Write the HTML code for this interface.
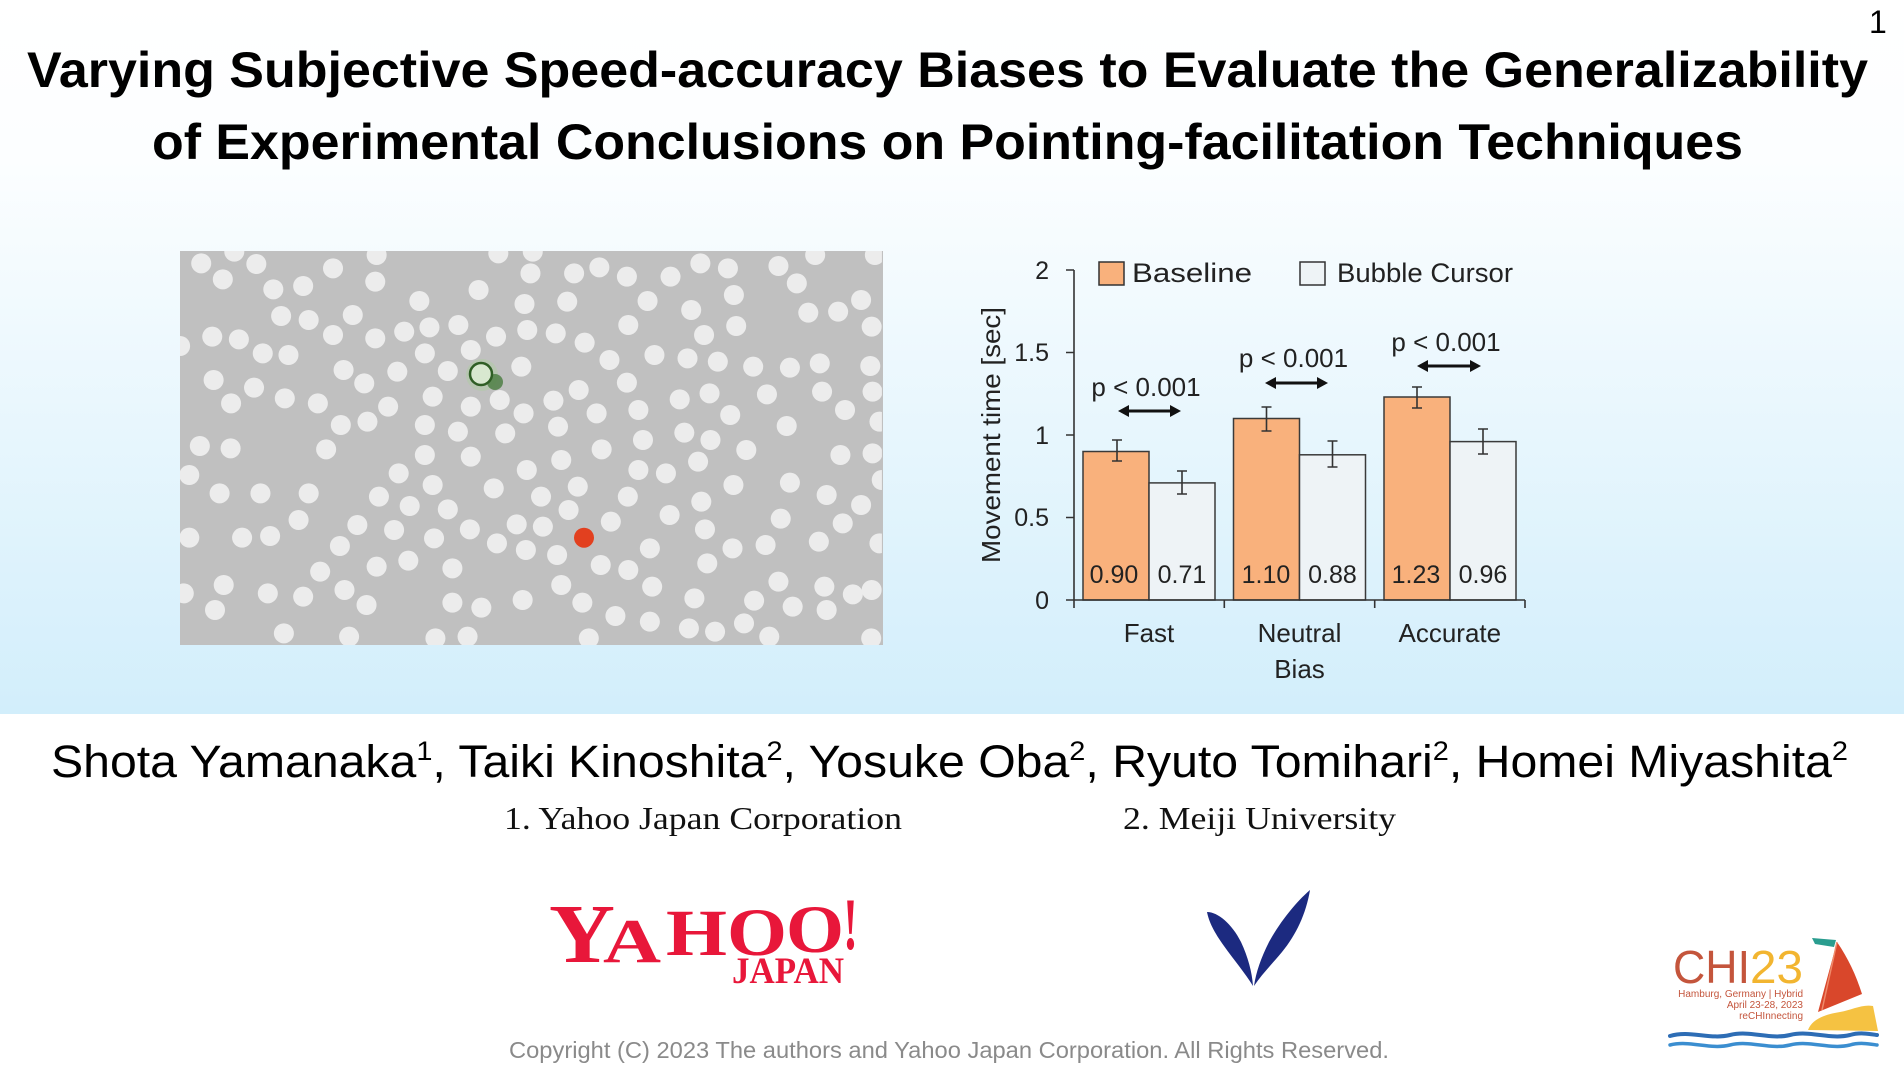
<!DOCTYPE html>
<html><head><meta charset="utf-8"><style>
html,body{margin:0;padding:0;background:#fff;}
svg{display:block;}
</style></head><body>
<svg width="1904" height="1069" viewBox="0 0 1904 1069" xmlns="http://www.w3.org/2000/svg">
<defs>
<linearGradient id="bg" x1="0" y1="0" x2="0" y2="1">
<stop offset="0" stop-color="#ffffff"/>
<stop offset="0.22" stop-color="#fcfeff"/>
<stop offset="1" stop-color="#d2eefb"/>
</linearGradient>
<clipPath id="pc"><rect x="21.8" y="33" width="1528.5" height="1182"/></clipPath>
</defs>
<rect x="0" y="0" width="1904" height="714" fill="url(#bg)"/>
<rect x="0" y="714" width="1904" height="355" fill="#ffffff"/>

<!-- Title -->
<text x="1869" y="33" font-family="Liberation Sans, Arial, sans-serif" font-size="32" fill="#000">1</text>
<text x="27" y="87" font-family="Liberation Sans, Arial, sans-serif" font-weight="bold" font-size="50" fill="#000" textLength="1841" lengthAdjust="spacingAndGlyphs">Varying Subjective Speed-accuracy Biases to Evaluate the Generalizability</text>
<text x="152" y="159" font-family="Liberation Sans, Arial, sans-serif" font-weight="bold" font-size="50" fill="#000" textLength="1591" lengthAdjust="spacingAndGlyphs">of Experimental Conclusions on Pointing-facilitation Techniques</text>

<!-- Gray panel -->
<rect x="180" y="251" width="703" height="394" fill="#c0c0c0"/>
<g transform="translate(170,240) scale(0.4592,0.33333)" clip-path="url(#pc)" fill="#ececec">
<ellipse cx="140" cy="35" rx="21.8" ry="30"/><ellipse cx="450" cy="45" rx="21.8" ry="30"/><ellipse cx="715" cy="40" rx="21.8" ry="30"/><ellipse cx="790" cy="35" rx="21.8" ry="30"/><ellipse cx="1405" cy="45" rx="21.8" ry="30"/><ellipse cx="1535" cy="45" rx="21.8" ry="30"/>
<ellipse cx="68" cy="70" rx="21.8" ry="30"/><ellipse cx="188" cy="72" rx="21.8" ry="30"/><ellipse cx="355" cy="85" rx="21.8" ry="30"/><ellipse cx="935" cy="82" rx="21.8" ry="30"/><ellipse cx="880" cy="100" rx="21.8" ry="30"/><ellipse cx="1155" cy="70" rx="21.8" ry="30"/><ellipse cx="1215" cy="85" rx="21.8" ry="30"/><ellipse cx="1325" cy="78" rx="21.8" ry="30"/>
<ellipse cx="115" cy="118" rx="21.8" ry="30"/><ellipse cx="447" cy="125" rx="21.8" ry="30"/><ellipse cx="785" cy="100" rx="21.8" ry="30"/><ellipse cx="995" cy="110" rx="21.8" ry="30"/><ellipse cx="1090" cy="110" rx="21.8" ry="30"/><ellipse cx="1365" cy="130" rx="21.8" ry="30"/><ellipse cx="1505" cy="180" rx="21.8" ry="30"/>
<ellipse cx="225" cy="148" rx="21.8" ry="30"/><ellipse cx="290" cy="138" rx="21.8" ry="30"/><ellipse cx="672" cy="150" rx="21.8" ry="30"/><ellipse cx="543" cy="183" rx="21.8" ry="30"/><ellipse cx="772" cy="192" rx="21.8" ry="30"/><ellipse cx="865" cy="185" rx="21.8" ry="30"/><ellipse cx="1040" cy="183" rx="21.8" ry="30"/><ellipse cx="1228" cy="165" rx="21.8" ry="30"/><ellipse cx="1135" cy="210" rx="21.8" ry="30"/><ellipse cx="1390" cy="218" rx="21.8" ry="30"/><ellipse cx="1455" cy="215" rx="21.8" ry="30"/>
<ellipse cx="242" cy="228" rx="21.8" ry="30"/><ellipse cx="302" cy="240" rx="21.8" ry="30"/><ellipse cx="398" cy="225" rx="21.8" ry="30"/><ellipse cx="565" cy="262" rx="21.8" ry="30"/><ellipse cx="628" cy="255" rx="21.8" ry="30"/><ellipse cx="510" cy="275" rx="21.8" ry="30"/><ellipse cx="778" cy="270" rx="21.8" ry="30"/><ellipse cx="840" cy="280" rx="21.8" ry="30"/><ellipse cx="998" cy="255" rx="21.8" ry="30"/><ellipse cx="1233" cy="258" rx="21.8" ry="30"/><ellipse cx="1528" cy="260" rx="21.8" ry="30"/>
<ellipse cx="92" cy="290" rx="21.8" ry="30"/><ellipse cx="150" cy="298" rx="21.8" ry="30"/><ellipse cx="355" cy="285" rx="21.8" ry="30"/><ellipse cx="447" cy="295" rx="21.8" ry="30"/><ellipse cx="710" cy="290" rx="21.8" ry="30"/><ellipse cx="903" cy="308" rx="21.8" ry="30"/><ellipse cx="1163" cy="285" rx="21.8" ry="30"/><ellipse cx="22" cy="318" rx="21.8" ry="30"/>
<ellipse cx="202" cy="340" rx="21.8" ry="30"/><ellipse cx="258" cy="345" rx="21.8" ry="30"/><ellipse cx="555" cy="340" rx="21.8" ry="30"/><ellipse cx="655" cy="330" rx="21.8" ry="30"/><ellipse cx="957" cy="360" rx="21.8" ry="30"/><ellipse cx="1055" cy="345" rx="21.8" ry="30"/><ellipse cx="1127" cy="355" rx="21.8" ry="30"/><ellipse cx="1193" cy="365" rx="21.8" ry="30"/><ellipse cx="1270" cy="380" rx="21.8" ry="30"/><ellipse cx="1350" cy="383" rx="21.8" ry="30"/><ellipse cx="1415" cy="370" rx="21.8" ry="30"/><ellipse cx="1525" cy="378" rx="21.8" ry="30"/>
<ellipse cx="378" cy="390" rx="21.8" ry="30"/><ellipse cx="495" cy="395" rx="21.8" ry="30"/><ellipse cx="605" cy="393" rx="21.8" ry="30"/><ellipse cx="765" cy="380" rx="21.8" ry="30"/><ellipse cx="95" cy="420" rx="21.8" ry="30"/><ellipse cx="423" cy="430" rx="21.8" ry="30"/><ellipse cx="183" cy="443" rx="21.8" ry="30"/><ellipse cx="890" cy="450" rx="21.8" ry="30"/><ellipse cx="995" cy="428" rx="21.8" ry="30"/>
<ellipse cx="250" cy="475" rx="21.8" ry="30"/><ellipse cx="133" cy="490" rx="21.8" ry="30"/><ellipse cx="322" cy="490" rx="21.8" ry="30"/><ellipse cx="475" cy="500" rx="21.8" ry="30"/><ellipse cx="572" cy="470" rx="21.8" ry="30"/><ellipse cx="655" cy="500" rx="21.8" ry="30"/><ellipse cx="718" cy="480" rx="21.8" ry="30"/><ellipse cx="770" cy="520" rx="21.8" ry="30"/><ellipse cx="835" cy="482" rx="21.8" ry="30"/><ellipse cx="929" cy="520" rx="21.8" ry="30"/><ellipse cx="1020" cy="510" rx="21.8" ry="30"/><ellipse cx="1110" cy="478" rx="21.8" ry="30"/><ellipse cx="1175" cy="460" rx="21.8" ry="30"/><ellipse cx="1300" cy="463" rx="21.8" ry="30"/><ellipse cx="1420" cy="455" rx="21.8" ry="30"/><ellipse cx="1530" cy="455" rx="21.8" ry="30"/><ellipse cx="1470" cy="510" rx="21.8" ry="30"/><ellipse cx="1220" cy="525" rx="21.8" ry="30"/>
<ellipse cx="372" cy="555" rx="21.8" ry="30"/><ellipse cx="430" cy="545" rx="21.8" ry="30"/><ellipse cx="555" cy="555" rx="21.8" ry="30"/><ellipse cx="627" cy="575" rx="21.8" ry="30"/><ellipse cx="730" cy="580" rx="21.8" ry="30"/><ellipse cx="845" cy="560" rx="21.8" ry="30"/><ellipse cx="1030" cy="600" rx="21.8" ry="30"/><ellipse cx="1120" cy="578" rx="21.8" ry="30"/><ellipse cx="1177" cy="600" rx="21.8" ry="30"/><ellipse cx="1343" cy="558" rx="21.8" ry="30"/><ellipse cx="1545" cy="545" rx="21.8" ry="30"/>
<ellipse cx="65" cy="618" rx="21.8" ry="30"/><ellipse cx="132" cy="625" rx="21.8" ry="30"/><ellipse cx="340" cy="628" rx="21.8" ry="30"/><ellipse cx="555" cy="645" rx="21.8" ry="30"/><ellipse cx="655" cy="650" rx="21.8" ry="30"/><ellipse cx="852" cy="660" rx="21.8" ry="30"/><ellipse cx="940" cy="628" rx="21.8" ry="30"/><ellipse cx="1255" cy="630" rx="21.8" ry="30"/><ellipse cx="1460" cy="645" rx="21.8" ry="30"/><ellipse cx="1530" cy="640" rx="21.8" ry="30"/><ellipse cx="1150" cy="665" rx="21.8" ry="30"/>
<ellipse cx="42" cy="705" rx="21.8" ry="30"/><ellipse cx="498" cy="700" rx="21.8" ry="30"/><ellipse cx="572" cy="735" rx="21.8" ry="30"/><ellipse cx="705" cy="745" rx="21.8" ry="30"/><ellipse cx="777" cy="690" rx="21.8" ry="30"/><ellipse cx="1020" cy="690" rx="21.8" ry="30"/><ellipse cx="1080" cy="700" rx="21.8" ry="30"/><ellipse cx="1227" cy="735" rx="21.8" ry="30"/><ellipse cx="1350" cy="728" rx="21.8" ry="30"/><ellipse cx="1550" cy="720" rx="21.8" ry="30"/>
<ellipse cx="108" cy="760" rx="21.8" ry="30"/><ellipse cx="197" cy="760" rx="21.8" ry="30"/><ellipse cx="302" cy="760" rx="21.8" ry="30"/><ellipse cx="455" cy="770" rx="21.8" ry="30"/><ellipse cx="522" cy="798" rx="21.8" ry="30"/><ellipse cx="605" cy="808" rx="21.8" ry="30"/><ellipse cx="808" cy="770" rx="21.8" ry="30"/><ellipse cx="888" cy="740" rx="21.8" ry="30"/><ellipse cx="997" cy="770" rx="21.8" ry="30"/><ellipse cx="1088" cy="825" rx="21.8" ry="30"/><ellipse cx="1157" cy="785" rx="21.8" ry="30"/><ellipse cx="1430" cy="765" rx="21.8" ry="30"/><ellipse cx="1505" cy="795" rx="21.8" ry="30"/>
<ellipse cx="280" cy="840" rx="21.8" ry="30"/><ellipse cx="408" cy="855" rx="21.8" ry="30"/><ellipse cx="488" cy="870" rx="21.8" ry="30"/><ellipse cx="653" cy="868" rx="21.8" ry="30"/><ellipse cx="755" cy="853" rx="21.8" ry="30"/><ellipse cx="812" cy="860" rx="21.8" ry="30"/><ellipse cx="868" cy="810" rx="21.8" ry="30"/><ellipse cx="960" cy="845" rx="21.8" ry="30"/><ellipse cx="1165" cy="868" rx="21.8" ry="30"/><ellipse cx="1330" cy="836" rx="21.8" ry="30"/><ellipse cx="1465" cy="850" rx="21.8" ry="30"/><ellipse cx="42" cy="893" rx="21.8" ry="30"/><ellipse cx="157" cy="893" rx="21.8" ry="30"/><ellipse cx="218" cy="888" rx="21.8" ry="30"/><ellipse cx="370" cy="918" rx="21.8" ry="30"/><ellipse cx="575" cy="895" rx="21.8" ry="30"/><ellipse cx="712" cy="910" rx="21.8" ry="30"/><ellipse cx="775" cy="930" rx="21.8" ry="30"/><ellipse cx="843" cy="945" rx="21.8" ry="30"/><ellipse cx="1045" cy="925" rx="21.8" ry="30"/><ellipse cx="1225" cy="925" rx="21.8" ry="30"/><ellipse cx="1297" cy="915" rx="21.8" ry="30"/><ellipse cx="1413" cy="905" rx="21.8" ry="30"/><ellipse cx="1545" cy="910" rx="21.8" ry="30"/>
<ellipse cx="450" cy="980" rx="21.8" ry="30"/><ellipse cx="519" cy="962" rx="21.8" ry="30"/><ellipse cx="615" cy="985" rx="21.8" ry="30"/><ellipse cx="327" cy="995" rx="21.8" ry="30"/><ellipse cx="938" cy="975" rx="21.8" ry="30"/><ellipse cx="998" cy="990" rx="21.8" ry="30"/><ellipse cx="1170" cy="970" rx="21.8" ry="30"/>
<ellipse cx="117" cy="1035" rx="21.8" ry="30"/><ellipse cx="213" cy="1060" rx="21.8" ry="30"/><ellipse cx="290" cy="1070" rx="21.8" ry="30"/><ellipse cx="380" cy="1050" rx="21.8" ry="30"/><ellipse cx="428" cy="1095" rx="21.8" ry="30"/><ellipse cx="98" cy="1110" rx="21.8" ry="30"/><ellipse cx="852" cy="1035" rx="21.8" ry="30"/><ellipse cx="1050" cy="1040" rx="21.8" ry="30"/><ellipse cx="1325" cy="1025" rx="21.8" ry="30"/><ellipse cx="1425" cy="1040" rx="21.8" ry="30"/><ellipse cx="1487" cy="1063" rx="21.8" ry="30"/><ellipse cx="1528" cy="1050" rx="21.8" ry="30"/><ellipse cx="30" cy="1060" rx="21.8" ry="30"/>
<ellipse cx="615" cy="1088" rx="21.8" ry="30"/><ellipse cx="678" cy="1103" rx="21.8" ry="30"/><ellipse cx="768" cy="1080" rx="21.8" ry="30"/><ellipse cx="898" cy="1088" rx="21.8" ry="30"/><ellipse cx="1142" cy="1075" rx="21.8" ry="30"/><ellipse cx="1272" cy="1082" rx="21.8" ry="30"/><ellipse cx="1356" cy="1100" rx="21.8" ry="30"/><ellipse cx="1430" cy="1110" rx="21.8" ry="30"/><ellipse cx="970" cy="1128" rx="21.8" ry="30"/><ellipse cx="1045" cy="1145" rx="21.8" ry="30"/>
<ellipse cx="248" cy="1180" rx="21.8" ry="30"/><ellipse cx="390" cy="1190" rx="21.8" ry="30"/><ellipse cx="578" cy="1195" rx="21.8" ry="30"/><ellipse cx="648" cy="1190" rx="21.8" ry="30"/><ellipse cx="912" cy="1195" rx="21.8" ry="30"/><ellipse cx="1130" cy="1165" rx="21.8" ry="30"/><ellipse cx="1187" cy="1175" rx="21.8" ry="30"/><ellipse cx="1250" cy="1150" rx="21.8" ry="30"/><ellipse cx="1305" cy="1190" rx="21.8" ry="30"/><ellipse cx="1527" cy="1195" rx="21.8" ry="30"/>
</g>
<circle cx="482" cy="375" r="16" fill="#a9cf9a" opacity="0.4"/>
<circle cx="495" cy="382" r="8" fill="#4f7f45" opacity="0.85"/>
<circle cx="481" cy="374" r="11" fill="#d8e8d0" stroke="#2f5e25" stroke-width="2.5"/>
<circle cx="584" cy="537.7" r="10" fill="#e2401f"/>

<!-- Chart -->
<g font-family="Liberation Sans, Arial, sans-serif" fill="#222">
<rect x="1099" y="262" width="25" height="23" fill="#f9b17c" stroke="#333" stroke-width="1.5"/>
<text x="1132" y="282" font-size="27" textLength="120" lengthAdjust="spacingAndGlyphs">Baseline</text>
<rect x="1300" y="262" width="25" height="23" fill="#eef3f6" stroke="#333" stroke-width="1.5"/>
<text x="1337" y="282" font-size="27" textLength="176" lengthAdjust="spacingAndGlyphs">Bubble Cursor</text>

<text transform="translate(1000,435) rotate(-90)" text-anchor="middle" font-size="26" textLength="256" lengthAdjust="spacingAndGlyphs">Movement time [sec]</text>

<g font-size="25" text-anchor="end">
<text x="1049" y="279">2</text>
<text x="1049" y="361">1.5</text>
<text x="1049" y="444">1</text>
<text x="1049" y="526">0.5</text>
<text x="1049" y="609">0</text>
</g>

<g stroke="#3a3a3a" stroke-width="1.5">
<rect x="1083" y="451.5" width="66" height="148.5" fill="#f9b17c"/>
<rect x="1149" y="482.9" width="66" height="117.1" fill="#eef3f6"/>
<rect x="1233.5" y="418.5" width="66" height="181.5" fill="#f9b17c"/>
<rect x="1299.5" y="454.8" width="66" height="145.2" fill="#eef3f6"/>
<rect x="1384" y="397" width="66" height="203" fill="#f9b17c"/>
<rect x="1450" y="441.6" width="66" height="158.4" fill="#eef3f6"/>
</g>

<g stroke="#333" stroke-width="1.6" fill="none">
<path d="M1117,440V461M1112,440H1122M1112,461H1122"/>
<path d="M1182,471V494M1177,471H1187M1177,494H1187"/>
<path d="M1266.5,407V431M1261.5,407H1271.5M1261.5,431H1271.5"/>
<path d="M1332.5,441V467M1327.5,441H1337.5M1327.5,467H1337.5"/>
<path d="M1417,387V408M1412,387H1422M1412,408H1422"/>
<path d="M1483,429V454M1478,429H1488M1478,454H1488"/>
</g>

<g stroke="#333" stroke-width="1.6" fill="none">
<path d="M1074,270V600"/>
<path d="M1066,270H1074M1066,352.5H1074M1066,435H1074M1066,517.5H1074M1066,600H1074"/>
<path d="M1074,600H1525"/>
<path d="M1074,600V608M1224.3,600V608M1374.7,600V608M1525,600V608"/>
</g>

<g font-size="25" text-anchor="middle">
<text x="1114" y="583">0.90</text>
<text x="1182" y="583">0.71</text>
<text x="1266" y="583">1.10</text>
<text x="1332.5" y="583">0.88</text>
<text x="1416" y="583">1.23</text>
<text x="1483" y="583">0.96</text>
</g>

<g font-size="26" text-anchor="middle">
<text x="1146" y="396">p &lt; 0.001</text>
<text x="1293.5" y="367">p &lt; 0.001</text>
<text x="1446" y="351">p &lt; 0.001</text>
</g>
<g stroke="#111" stroke-width="3" fill="none">
<path d="M1126,411H1173"/>
<path d="M1273,383H1320"/>
<path d="M1425,366H1473"/>
</g>
<g fill="#111">
<path d="M1118,411L1129,405V417Z"/><path d="M1181,411L1170,405V417Z"/>
<path d="M1265,383L1276,377V389Z"/><path d="M1328,383L1317,377V389Z"/>
<path d="M1417,366L1428,360V372Z"/><path d="M1481,366L1470,360V372Z"/>
</g>

<g font-size="26" text-anchor="middle">
<text x="1149" y="642">Fast</text>
<text x="1299.5" y="642">Neutral</text>
<text x="1449.8" y="642">Accurate</text>
<text x="1299.5" y="678">Bias</text>
</g>
</g>

<!-- Authors -->
<text x="51" y="777" font-family="Liberation Sans, Arial, sans-serif" font-size="45" fill="#000" textLength="1797" lengthAdjust="spacingAndGlyphs">Shota Yamanaka<tspan font-size="27" dy="-17">1</tspan><tspan dy="17">, Taiki Kinoshita</tspan><tspan font-size="27" dy="-17">2</tspan><tspan dy="17">, Yosuke Oba</tspan><tspan font-size="27" dy="-17">2</tspan><tspan dy="17">, Ryuto Tomihari</tspan><tspan font-size="27" dy="-17">2</tspan><tspan dy="17">, Homei Miyashita</tspan><tspan font-size="27" dy="-17">2</tspan></text>

<text x="504" y="829" font-family="Liberation Serif, Times New Roman, serif" font-size="32" fill="#111" textLength="398" lengthAdjust="spacingAndGlyphs">1. Yahoo Japan Corporation</text>
<text x="1123" y="829" font-family="Liberation Serif, Times New Roman, serif" font-size="32" fill="#111" textLength="273" lengthAdjust="spacingAndGlyphs">2. Meiji University</text>

<!-- Yahoo logo -->
<g font-family="Liberation Serif, Times New Roman, serif" font-weight="bold" fill="#e8173a">
<text x="549" y="962" font-size="84" textLength="66" lengthAdjust="spacingAndGlyphs">Y</text>
<text x="603" y="962" font-size="62" textLength="58" lengthAdjust="spacingAndGlyphs">A</text>
<text x="666" y="955" font-size="66" textLength="61" lengthAdjust="spacingAndGlyphs">H</text>
<text x="727" y="955" font-size="68" textLength="60" lengthAdjust="spacingAndGlyphs">O</text>
<text x="786" y="952" font-size="68" textLength="58" lengthAdjust="spacingAndGlyphs">O</text>
<text x="843" y="949" font-size="74" textLength="15" lengthAdjust="spacingAndGlyphs">!</text>
<text x="732" y="983" font-size="37" textLength="112" lengthAdjust="spacingAndGlyphs">JAPAN</text>
</g>

<!-- Meiji logo -->
<g fill="#1c2a80">
<path d="M1207,912 C1218,912 1232,924 1241,942 C1248,957 1252,972 1253,986 C1245,973 1234,960 1224,946 C1214,932 1209,922 1207,912 Z"/>
<path d="M1310,890 C1296,902 1280,922 1269,942 C1261,958 1256,972 1254,986 C1262,974 1272,964 1282,952 C1296,935 1306,914 1310,890 Z"/>
</g>

<!-- CHI23 logo -->
<g font-family="Liberation Sans, Arial, sans-serif">
<text x="1673" y="983" font-size="46" fill="#c4553c" textLength="77" lengthAdjust="spacingAndGlyphs">CHI</text>
<text x="1750" y="983" font-size="46" fill="#f2b530" textLength="53" lengthAdjust="spacingAndGlyphs">23</text>
<g font-size="10" fill="#c4553c" text-anchor="end">
<text x="1803" y="997">Hamburg, Germany | Hybrid</text>
<text x="1803" y="1008">April 23-28, 2023</text>
<text x="1803" y="1019">reCHInnecting</text>
</g>
</g>
<path d="M1812,938 L1836,940 L1834,947 L1815,944 Z" fill="#2a9d8f"/>
<path d="M1837,942 L1818,1012 L1862,994 C1856,975 1848,958 1837,942 Z" fill="#d9472b"/>
<path d="M1837,942 L1822,1010" stroke="#f08a6a" stroke-width="1.5" fill="none"/>
<path d="M1808,1030 C1812,1020 1822,1015 1840,1012 C1852,1010 1862,1004 1873,1006 L1878,1031 Z" fill="#f5c242"/>
<g fill="none" stroke-linecap="round">
<path d="M1670,1036 C1690,1030 1710,1040 1730,1035 C1750,1030 1770,1040 1790,1035 C1810,1030 1830,1040 1850,1035 C1860,1032 1870,1034 1877,1035" stroke="#2d6db5" stroke-width="4"/>
<path d="M1670,1045 C1690,1040 1710,1050 1730,1045 C1750,1040 1770,1050 1790,1045 C1810,1040 1830,1050 1850,1045 C1860,1042 1870,1044 1877,1045" stroke="#3b8ed0" stroke-width="3.5"/>
</g>

<!-- Copyright -->
<text x="509" y="1058" font-family="Liberation Sans, Arial, sans-serif" font-size="23" fill="#8a8a8a" textLength="880" lengthAdjust="spacingAndGlyphs">Copyright (C) 2023 The authors and Yahoo Japan Corporation. All Rights Reserved.</text>
</svg>
</body></html>
